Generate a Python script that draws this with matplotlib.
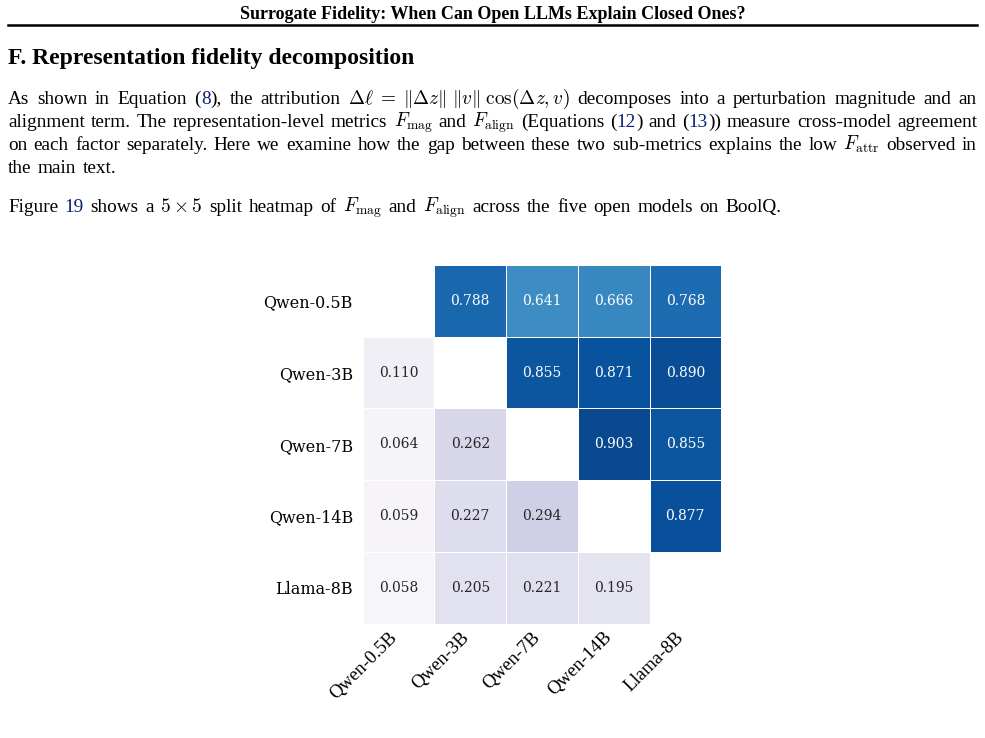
import re
import numpy as np
import matplotlib
matplotlib.use("Agg")
import matplotlib.pyplot as plt
from matplotlib.transforms import ScaledTranslation

plt.rcParams['mathtext.fontset'] = 'cm'

# ---- data ----
models = ["Qwen-0.5B", "Qwen-3B", "Qwen-7B", "Qwen-14B", "Llama-8B"]
# upper triangle: F_align, lower triangle: F_mag (row i, col j)
f_align = {
    (0, 1): 0.788, (0, 2): 0.641, (0, 3): 0.666, (0, 4): 0.768,
    (1, 2): 0.855, (1, 3): 0.871, (1, 4): 0.890,
    (2, 3): 0.903, (2, 4): 0.855,
    (3, 4): 0.877,
}
f_mag = {
    (1, 0): 0.110,
    (2, 0): 0.064, (2, 1): 0.262,
    (3, 0): 0.059, (3, 1): 0.227, (3, 2): 0.294,
    (4, 0): 0.058, (4, 1): 0.205, (4, 2): 0.221, (4, 3): 0.195,
}

header = "Surrogate Fidelity: When Can Open LLMs Explain Closed Ones?"
section = "F. Representation fidelity decomposition"
# '#' toggles link colour, text inside $...$ is math
para1 = [
    r"As shown in Equation (#8#), the attribution $\Delta\ell \;=\; \|\Delta z\|\;\|v\|\;\cos(\Delta z, v)$ decomposes into a perturbation magnitude and an",
    r"alignment term. The representation-level metrics $F_{\mathrm{mag}}$ and $F_{\mathrm{align}}$ (Equations (#12#) and (#13#)) measure cross-model agreement",
    r"on each factor separately. Here we examine how the gap between these two sub-metrics explains the low $F_{\mathrm{attr}}$ observed in",
    r"the main text.",
]
para2 = r"Figure #19# shows a $5 \times 5$ split heatmap of $F_{\mathrm{mag}}$ and $F_{\mathrm{align}}$ across the five open models on BoolQ."

W, H = 985, 738
fig = plt.figure(figsize=(W / 100, H / 100), dpi=100)
renderer = fig.canvas.get_renderer()
LINK = "#0a1f78"
BODY = dict(family="Liberation Serif", size=13.9)


def px(x, y):
    return x / W, 1 - y / H


def text_width(s, **kw):
    t = fig.text(0, 0, s, **kw)
    w = t.get_window_extent(renderer).width
    t.remove()
    return w


def draw_line(line, y, x0=8, x1=None):
    words = re.findall(r'(?:\$[^$]*\$|[^\s$])+', line)
    pieces = []
    for w in words:
        parts = w.split("#")
        segs = [(p, LINK if k % 2 else "black") for k, p in enumerate(parts) if p]
        widths = [text_width(p, **BODY) for p, _ in segs]
        pieces.append((segs, widths, sum(widths)))
    space = (text_width("a a", **BODY) - text_width("aa", **BODY)) * 1.35
    total = sum(p[2] for p in pieces)
    if x1 is not None and len(pieces) > 1:
        gap = (x1 - x0 - total) / (len(pieces) - 1)
    else:
        gap = space
    x = x0
    for segs, widths, tw in pieces:
        xx = x
        for (s, c), w in zip(segs, widths):
            fig.text(*px(xx, y), s, color=c, va="baseline", ha="left", **BODY)
            xx += w
        x += tw + gap


# header and rule
fig.text(*px(492.5, 19), header, ha="center", va="baseline",
         family="Liberation Serif", weight="bold", size=12.95)
fig.add_artist(plt.Line2D([8 / W, 977 / W], [1 - 25 / H] * 2, color="black", lw=1.8))
fig.text(*px(8, 64), section, ha="left", va="baseline",
         family="Liberation Serif", weight="bold", size=17.0)

for k, line in enumerate(para1):
    draw_line(line, 104 + 23 * k, x1=977 if k < 3 else None)
draw_line(para2, 212)

# ---- heatmap ----
n = len(models)
up = np.full((n, n), np.nan)
lo = np.full((n, n), np.nan)
for (i, j), v in f_align.items():
    up[i, j] = v
for (i, j), v in f_mag.items():
    lo[i, j] = v

left, top, cell = 362.7, 265, 71.7
ax = fig.add_axes([left / W, 1 - (top + n * cell) / H, n * cell / W, n * cell / H])
ax.pcolormesh(np.ma.masked_invalid(up), cmap="Blues", vmin=0, vmax=1,
              edgecolors="white", linewidth=0.6)
ax.pcolormesh(np.ma.masked_invalid(lo), cmap="Purples", vmin=0, vmax=1,
              edgecolors="white", linewidth=0.6)
ax.set_xlim(0, n)
ax.set_ylim(n, 0)
for (i, j), v in list(f_align.items()) + list(f_mag.items()):
    col = "white" if v > 0.5 else "#262626"
    ax.text(j + 0.5, i + 0.5, f"{v:.3f}", ha="center", va="center",
            color=col, family="DejaVu Serif", size=10)

ax.set_xticks(np.arange(n) + 0.5)
ax.set_yticks(np.arange(n) + 0.5)
ax.set_xticklabels(models, rotation=45, ha="right", va="center",
                   rotation_mode="anchor", family="Liberation Serif", size=13.5)
ax.set_yticklabels(models, family="DejaVu Serif", size=11.5)
ax.tick_params(axis="y", length=0, pad=7)
ax.tick_params(axis="x", length=0, pad=8)
shift = ScaledTranslation(-4 / 100, 0, fig.dpi_scale_trans)
for lab in ax.get_xticklabels():
    lab.set_transform(lab.get_transform() + shift)
for s in ax.spines.values():
    s.set_visible(False)

fig.savefig("out.png", dpi=100)
